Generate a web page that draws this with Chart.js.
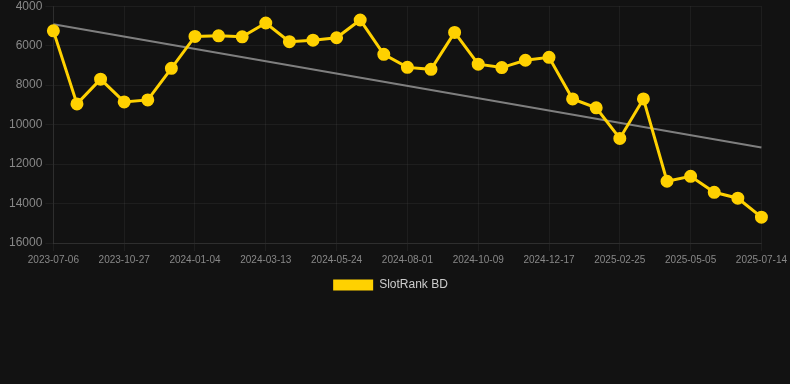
<!DOCTYPE html>
<html>
<head>
<meta charset="utf-8">
<script src="https://cdn.jsdelivr.net/npm/chart.js@4/dist/chart.umd.min.js"></script>
<style>
  html, body { margin: 0; padding: 0; background: #121212; overflow: hidden; }
  #wrap { position: relative; width: 790px; height: 305px; margin-top: -4px; }
</style>
</head>
<body>
<div id="wrap"><canvas id="c"></canvas></div>
<script>
const dates = [
  "2023-07-06","2023-08-13","2023-09-20","2023-10-27","2023-11-19","2023-12-12",
  "2024-01-04","2024-01-27","2024-02-19","2024-03-13","2024-04-06","2024-04-30",
  "2024-05-24","2024-06-16","2024-07-09","2024-08-01","2024-08-24","2024-09-16",
  "2024-10-09","2024-11-01","2024-11-24","2024-12-17","2025-01-09","2025-02-01",
  "2025-02-25","2025-03-20","2025-04-12","2025-05-05","2025-05-28","2025-06-20",
  "2025-07-14"
];
const rankValues = [
  5250, 8950, 7700, 8850, 8750, 7150,
  5530, 5500, 5550, 4850, 5800, 5720,
  5600, 4700, 6440, 7100, 7200, 5330,
  6940, 7110, 6740, 6590, 8700, 9150,
  10700, 8700, 12870, 12620, 13430, 13730,
  14690
];
const trendStart = 4910;
const trendEnd = 11160;
const trendValues = dates.map((d, i) => i === 0 ? trendStart : (i === dates.length - 1 ? trendEnd : null));
const yTicks = [4000, 6000, 8000, 10000, 12000, 14000, 16000];

const legendShift = {
  id: 'legendShift',
  afterLayout(chart) {
    if (chart.legend) { chart.legend.left -= 5.5; chart.legend.right -= 5.5; }
  }
};

new Chart(document.getElementById('c'), {
  type: 'line',
  data: {
    labels: dates,
    datasets: [
      {
        label: 'SlotRank BD',
        data: rankValues,
        borderColor: '#FFD100',
        backgroundColor: '#FFD100',
        borderWidth: 3,
        pointRadius: 5,
        pointHoverRadius: 5,
        pointBackgroundColor: '#FFD100',
        pointBorderColor: '#FFD100',
        tension: 0,
        order: 0
      },
      {
        label: 'Trend',
        data: trendValues,
        spanGaps: true,
        borderColor: 'rgba(140,140,140,0.9)',
        borderWidth: 2,
        pointRadius: 0,
        tension: 0,
        order: 1
      }
    ]
  },
  plugins: [legendShift],
  options: {
    responsive: true,
    maintainAspectRatio: false,
    animation: false,
    layout: { padding: { left: 6, right: 4 } },
    plugins: {
      legend: {
        position: 'bottom',
        labels: {
          color: '#cccccc',
          font: { size: 12, family: 'Liberation Sans, Arial, sans-serif' },
          boxWidth: 40,
          boxHeight: 11,
          filter: (item) => item.datasetIndex === 0,
          generateLabels: (chart) => Chart.defaults.plugins.legend.labels.generateLabels(chart)
            .map(l => Object.assign(l, { lineWidth: 0 }))
        }
      },
      tooltip: { enabled: false }
    },
    scales: {
      x: {
        grid: { color: 'rgba(255,255,255,0.05)', tickColor: 'rgba(255,255,255,0.05)' },
        border: { color: 'rgba(255,255,255,0.08)' },
        ticks: {
          color: '#888888',
          font: { size: 10, family: 'Liberation Sans, Arial, sans-serif' },
          maxRotation: 0,
          autoSkip: true
        }
      },
      y: {
        reverse: true,
        min: 4000,
        max: 16000,
        afterBuildTicks: (axis) => { axis.ticks = yTicks.map(v => ({ value: v })); },
        grid: { color: 'rgba(255,255,255,0.05)', tickColor: 'rgba(255,255,255,0.05)' },
        border: { color: 'rgba(255,255,255,0.08)' },
        ticks: {
          color: '#888888',
          font: { size: 12, family: 'Liberation Sans, Arial, sans-serif' },
          callback: (v) => String(v)
        }
      }
    }
  }
});
</script>
</body>
</html>
